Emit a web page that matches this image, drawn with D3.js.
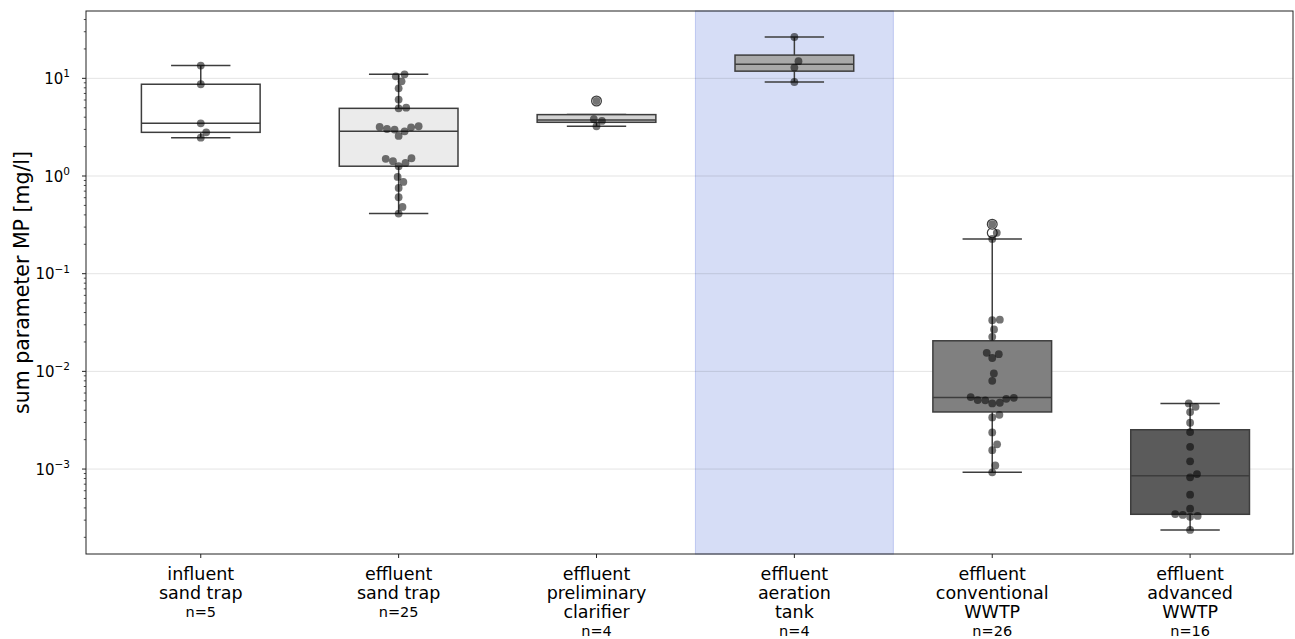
<!DOCTYPE html>
<html>
<head>
<meta charset="utf-8">
<script src="https://cdn.jsdelivr.net/npm/d3@7/dist/d3.min.js"></script>
<style>
  body { margin: 0; background: #fff; }
  text { font-family: "DejaVu Sans", sans-serif; fill: #000; }
</style>
</head>
<body>
<div id="chart"></div>
<script>
// category labels (lines of the tick label)
const categories = [
    ['influent', 'sand trap'],
    ['effluent', 'sand trap'],
    ['effluent', 'preliminary', 'clarifier'],
    ['effluent', 'aeration', 'tank'],
    ['effluent', 'conventional', 'WWTP'],
    ['effluent', 'advanced', 'WWTP']
];

// measured values in mg/l, one array per sampling point
const influentSandTrap = [13.5, 8.7, 3.46, 2.8, 2.47];
const effluentSandTrap = [10.99, 10.48, 9.32, 7.9, 6.06, 5.01, 4.93, 3.23, 3.18, 2.87, 2.57, 2.99, 3.03,
    3.15, 1.52, 1.36, 1.26, 1.42, 1.5, 0.978, 0.869, 0.755, 0.606, 0.482, 0.413];
const effluentClarifier = [5.86, 3.82, 3.66, 3.23];
const effluentAeration = [26.5, 15.0, 12.9, 9.17];
const effluentConventional = [0.321, 0.262, 0.227, 0.0334, 0.0338, 0.0269, 0.0226, 0.015, 0.0137, 0.0155,
    0.00953, 0.008, 0.00545, 0.00524, 0.00477, 0.0047, 0.00508, 0.00505, 0.00536, 0.00359, 0.00338,
    0.00237, 0.00179, 0.00156, 0.00109, 0.000925];
const effluentAdvanced = [0.0047, 0.00434, 0.00383, 0.00298, 0.00239, 0.00169, 0.0012, 0.000889, 0.000823,
    0.000546, 0.000393, 0.000346, 0.000331, 0.000339, 0.000324, 0.000238];

const groups = [influentSandTrap, effluentSandTrap, effluentClarifier, effluentAeration, effluentConventional, effluentAdvanced];

// y axis decades (exponents) and the highlighted category
const yExponents = [-3, -2, -1, 0, 1];
const highlighted = 3;

const boxColors = ['#ffffff', '#ebebeb', '#d3d3d3', '#a9a9a9', '#808080', '#5b5b5b'];
const lineColor = '#3d3d3d';

const width = 1295;
const height = 639;
const plot = { left: 86, right: 1293, top: 11, bottom: 554 };

const svg = d3.select('#chart')
    .append('svg')
    .attr('width', width)
    .attr('height', height);

const x = d3.scaleLinear()
    .domain([-0.58, 5.52])
    .range([plot.left, plot.right]);

const y = d3.scaleLog()
    .domain([1.35e-4, 48.9])
    .range([plot.bottom, plot.top]);

const band = x(1) - x(0);

// highlighted column
svg.append('rect')
    .attr('x', x(highlighted - 0.5))
    .attr('y', plot.top)
    .attr('width', x(highlighted + 0.5) - x(highlighted - 0.5))
    .attr('height', plot.bottom - plot.top)
    .attr('fill', '#d6ddf6')
    .attr('stroke', '#bcc7f0')
    .attr('stroke-width', 1);

// grid lines on the decades
svg.append('g')
    .selectAll('line')
    .data(yExponents)
    .join('line')
    .attr('x1', plot.left)
    .attr('x2', plot.right)
    .attr('y1', d => y(Math.pow(10, d)))
    .attr('y2', d => y(Math.pow(10, d)))
    .attr('stroke', '#000')
    .attr('stroke-opacity', 0.11)
    .attr('stroke-width', 1);

// boxplot statistics like matplotlib, computed on log10 values
function boxStats(vals) {
    const l = vals.map(Math.log10).sort(d3.ascending);
    const q1 = d3.quantileSorted(l, 0.25);
    const med = d3.quantileSorted(l, 0.5);
    const q3 = d3.quantileSorted(l, 0.75);
    const iqr = q3 - q1;
    const hiFence = q3 + 1.5 * iqr;
    const loFence = q1 - 1.5 * iqr;
    let whisHi = d3.max(l.filter(v => v <= hiFence));
    if (whisHi === undefined || whisHi < q3) whisHi = q3;
    let whisLo = d3.min(l.filter(v => v >= loFence));
    if (whisLo === undefined || whisLo > q1) whisLo = q1;
    const fliers = l.filter(v => v > whisHi || v < whisLo);
    const p = v => y(Math.pow(10, v));
    return { q1: p(q1), med: p(med), q3: p(q3), whisHi: p(whisHi), whisLo: p(whisLo), fliers: fliers.map(p) };
}

// simple beeswarm in pixel space
function swarm(vals, cx, diam) {
    const pts = vals.map(v => ({ y: y(v) })).sort((a, b) => b.y - a.y);
    const placed = [];
    pts.forEach(p => {
        const cands = [0];
        placed.forEach(q => {
            const dy = Math.abs(q.y - p.y);
            if (dy < diam) {
                const dx = Math.sqrt(diam * diam - dy * dy);
                cands.push(q.dx + dx, q.dx - dx);
            }
        });
        cands.sort((a, b) => Math.abs(a) - Math.abs(b));
        const ok = cands.find(c => placed.every(q => Math.hypot(q.dx - c, q.y - p.y) >= diam - 0.01));
        p.dx = ok;
        placed.push(p);
    });
    return placed.map(p => ({ x: cx + p.dx, y: p.y }));
}

const boxW = 0.6 * band;
const capW = 0.3 * band;

groups.forEach((vals, i) => {
    const s = boxStats(vals);
    const cx = x(i);
    const g = svg.append('g');

    // whiskers
    g.append('line').attr('x1', cx).attr('x2', cx).attr('y1', s.q3).attr('y2', s.whisHi);
    g.append('line').attr('x1', cx).attr('x2', cx).attr('y1', s.q1).attr('y2', s.whisLo);
    // caps
    g.append('line').attr('x1', cx - capW / 2).attr('x2', cx + capW / 2).attr('y1', s.whisHi).attr('y2', s.whisHi);
    g.append('line').attr('x1', cx - capW / 2).attr('x2', cx + capW / 2).attr('y1', s.whisLo).attr('y2', s.whisLo);
    // box
    g.append('rect')
        .attr('x', cx - boxW / 2)
        .attr('y', s.q3)
        .attr('width', boxW)
        .attr('height', s.q1 - s.q3)
        .attr('fill', boxColors[i]);
    // median
    g.append('line').attr('x1', cx - boxW / 2).attr('x2', cx + boxW / 2).attr('y1', s.med).attr('y2', s.med);

    g.selectAll('line, rect')
        .attr('stroke', lineColor)
        .attr('stroke-width', 1.5);

    // outliers
    g.selectAll('circle.flier')
        .data(s.fliers)
        .join('circle')
        .attr('class', 'flier')
        .attr('cx', cx)
        .attr('cy', d => d)
        .attr('r', 4.9)
        .attr('fill', '#fff')
        .attr('stroke', lineColor)
        .attr('stroke-width', 1.2);

    // individual samples
    g.selectAll('circle.pt')
        .data(swarm(vals, cx, 7.6))
        .join('circle')
        .attr('class', 'pt')
        .attr('cx', d => d.x)
        .attr('cy', d => d.y)
        .attr('r', 3.9)
        .attr('fill', '#000')
        .attr('fill-opacity', 0.55);
});

// frame
svg.append('rect')
    .attr('x', plot.left)
    .attr('y', plot.top)
    .attr('width', plot.right - plot.left)
    .attr('height', plot.bottom - plot.top)
    .attr('fill', 'none')
    .attr('stroke', '#222')
    .attr('stroke-width', 1);

// y axis: major ticks with 10^n labels, minor ticks
const minor = [];
for (let e = -4; e <= 1; e++) {
    for (let m = 2; m <= 9; m++) {
        const v = m * Math.pow(10, e);
        if (v >= y.domain()[0] && v <= y.domain()[1]) minor.push(v);
    }
}
const yAxis = svg.append('g');
yAxis.selectAll('line.minor')
    .data(minor)
    .join('line')
    .attr('x1', plot.left - 2.2)
    .attr('x2', plot.left)
    .attr('y1', d => y(d))
    .attr('y2', d => y(d))
    .attr('stroke', '#222')
    .attr('stroke-width', 0.8);
yAxis.selectAll('line.major')
    .data(yExponents)
    .join('line')
    .attr('x1', plot.left - 4)
    .attr('x2', plot.left)
    .attr('y1', d => y(Math.pow(10, d)))
    .attr('y2', d => y(Math.pow(10, d)))
    .attr('stroke', '#222')
    .attr('stroke-width', 1);
const yLabels = yAxis.selectAll('text')
    .data(yExponents)
    .join('text')
    .attr('x', plot.left - 16)
    .attr('y', d => y(Math.pow(10, d)) + 5.5)
    .attr('text-anchor', 'end')
    .style('font-size', '15px');
yLabels.append('tspan').text('10');
yLabels.append('tspan')
    .attr('dy', -6.5)
    .style('font-size', '10.5px')
    .text(d => String(d).replace('-', '\u2212'));

svg.append('text')
    .attr('transform', `translate(29, ${(plot.top + plot.bottom) / 2}) rotate(-90)`)
    .attr('text-anchor', 'middle')
    .style('font-size', '20.5px')
    .text('sum parameter MP [mg/l]');

// x axis ticks and labels
const xAxis = svg.append('g');
xAxis.selectAll('line')
    .data(categories)
    .join('line')
    .attr('x1', (d, i) => x(i))
    .attr('x2', (d, i) => x(i))
    .attr('y1', plot.bottom)
    .attr('y2', plot.bottom + 4)
    .attr('stroke', '#222');
categories.forEach((lines, i) => {
    const t = xAxis.append('text')
        .attr('text-anchor', 'middle')
        .style('font-size', '17.5px');
    lines.forEach((ln, k) => {
        t.append('tspan').attr('x', x(i)).attr('y', 580 + k * 19).text(ln);
    });
    xAxis.append('text')
        .attr('x', x(i))
        .attr('y', 580 + lines.length * 19 - 1)
        .attr('text-anchor', 'middle')
        .style('font-size', '14.5px')
        .text('n=' + groups[i].length);
});
</script>
</body>
</html>
